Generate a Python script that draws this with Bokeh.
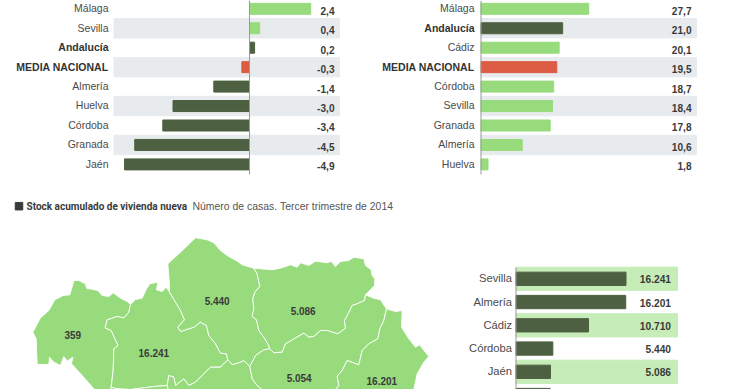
from bokeh.plotting import figure
from bokeh.models import Range1d
from bokeh.embed import file_html
from bokeh.resources import INLINE
from bokeh.core.properties import value

# ---- data ----
eu_names = ["Málaga", "Sevilla", "Andalucía", "MEDIA NACIONAL", "Almería", "Huelva", "Córdoba", "Granada", "Jaén"]
eu_values = [2.4, 0.4, 0.2, -0.3, -1.4, -3.0, -3.4, -4.5, -4.9]
pr_names = ["Málaga", "Andalucía", "Cádiz", "MEDIA NACIONAL", "Córdoba", "Sevilla", "Granada", "Almería", "Huelva"]
pr_values = [27.7, 21.0, 20.1, 19.5, 18.7, 18.4, 17.8, 10.6, 1.8]
st_names = ["Sevilla", "Almería", "Cádiz", "Córdoba", "Jaén"]
st_values = [16241, 16201, 10710, 5440, 5086]
st_cut_value = [5054]  # sixth bar: only its top edge shows in the picture

title_bold = "Stock acumulado de vivienda nueva"
title_rest = "Número de casas. Tercer trimestre de 2014"

huelva = [(37,305),(60,262),(85,240),(103,208),(128,195),(148,193),(160,150),(175,150),(195,160),(198,173),(232,180),(245,195),(265,198),(278,187),(300,203),(320,213),(330,222),(325,245),(310,262),(290,258),(260,268),(254,292),(272,300),(293,345),(280,355),(278,420),(272,470),(272,490),(235,490),(222,477),(185,435),(153,400),(157,380),(140,392),(130,378),(120,405),(100,395),(87,380),(85,402),(50,402),(47,325)]
sevilla = [(330,222),(345,207),(365,203),(378,175),(388,160),(412,155),(408,178),(425,183),(437,170),(447,185),(465,215),(480,240),(492,268),(472,290),(480,303),(520,290),(540,275),(558,285),(565,315),(585,340),(600,368),(618,370),(622,388),(600,410),(570,410),(550,430),(525,455),(505,465),(490,445),(465,465),(460,440),(445,435),(440,465),(400,468),(330,477),(290,475),(272,470),(278,420),(280,355),(293,345),(272,300),(254,292),(260,268),(290,258),(310,262),(325,245)]
cadiz = [(272,470),(290,475),(330,477),(400,468),(440,465),(448,490),(235,490),(272,490)]
malaga = [(440,465),(445,435),(460,440),(465,465),(490,445),(505,465),(525,455),(550,430),(570,410),(600,410),(622,388),(635,402),(655,397),(670,390),(688,408),(695,445),(710,465),(740,490),(448,490)]
cordoba = [(447,185),(447,165),(442,100),(480,65),(525,22),(545,25),(560,28),(580,37),(600,60),(620,75),(650,92),(665,103),(700,113),(710,130),(718,168),(703,185),(697,205),(700,235),(695,258),(708,268),(715,300),(730,320),(745,345),(748,355),(730,358),(705,375),(700,385),(688,408),(670,390),(655,397),(635,402),(622,388),(618,370),(600,368),(585,340),(565,315),(558,285),(540,275),(520,290),(480,303),(472,290),(492,268),(480,240),(465,215)]
jaen = [(700,113),(755,118),(780,113),(810,103),(830,110),(840,97),(865,105),(885,92),(920,97),(932,92),(945,108),(960,93),(985,90),(1000,80),(1030,85),(1035,105),(1052,118),(1055,135),(1063,145),(1062,165),(1035,193),(1032,210),(1010,220),(995,225),(983,250),(972,270),(975,293),(952,310),(920,300),(900,300),(880,318),(865,320),(850,308),(795,340),(785,365),(760,367),(748,355),(745,345),(730,320),(715,300),(708,268),(695,258),(700,235),(697,205),(703,185),(718,168),(710,130)]
granada = [(748,355),(760,367),(785,365),(795,340),(850,308),(865,320),(880,318),(900,300),(920,300),(952,310),(975,293),(972,270),(983,250),(995,225),(1010,220),(1032,210),(1035,193),(1060,203),(1080,208),(1098,235),(1090,270),(1078,295),(1072,325),(1045,340),(1025,360),(1015,403),(980,390),(965,420),(950,437),(955,465),(945,477),(945,490),(740,490),(710,465),(695,445),(688,408),(700,385),(705,375),(730,358)]
almeria = [(1098,235),(1125,243),(1145,240),(1143,290),(1165,325),(1185,350),(1197,343),(1225,378),(1210,395),(1190,430),(1180,477),(1175,490),(945,490),(945,477),(955,465),(950,437),(965,420),(980,390),(1015,403),(1025,360),(1045,340),(1072,325),(1078,295),(1090,270)]
provinces = [huelva, sevilla, cadiz, malaga, cordoba, jaen, granada, almeria]
map_labels = ["359", "16.241", "5.440", "5.086", "5.054", "16.201"]
map_u = [157, 400, 590, 848, 836, 1084]
map_v = [313, 366, 211, 242, 442, 451]

# ---- colours ----
DARK, GREEN, RED = "#4D6041", "#97DB7C", "#DC5C44"
BAND, LBAND, AXIS = "#E8EBEE", "#C6EDB8", "#9A9A9A"
TXT, VTXT = "#4A4A4A", "#3A3A3A"
W, H = 740, 389

p = figure(width=W, height=H, output_backend="svg", toolbar_location=None,
           x_range=Range1d(0, W), y_range=Range1d(H, 0), min_border=0,
           outline_line_color=None, margin=(0, 0, 0, 0))
p.axis.visible = False
p.grid.visible = False

def xr(zero_px, px_per_unit):
    return Range1d(-zero_px / px_per_unit, (W - zero_px) / px_per_unit)

def yr(first_px, step):
    return Range1d((H - first_px) / step, -first_px / step)

p.extra_x_ranges = {"eu": xr(249, 25.5), "pr": xr(480.5, 3.888), "st": xr(515.5, 110 / 16241),
                    "mu": Range1d(-60, 2160)}
p.extra_y_ranges = {"top": yr(8.3, 19.45), "st": yr(278.3, 23.25), "mv": Range1d(477, -690)}

def bar_colors(names, vals, dark_test):
    out = []
    for n, v in zip(names, vals):
        if n == "MEDIA NACIONAL":
            out.append(RED)
        elif dark_test(n, v):
            out.append(DARK)
        else:
            out.append(GREEN)
    return out

def panel(names, vals, xname, band_rows, band_l, band_r, label_r, value_r, colors):
    rows = list(range(len(names)))
    p.hbar(y=band_rows, left=band_l, right=band_r, height=1.0, color=BAND, y_range_name="top")
    p.hbar(y=rows, left=0, right=vals, height=11 / 19.45, color=colors,
           x_range_name=xname, y_range_name="top")
    for i, n in zip(rows, names):
        bold = n in ("Andalucía", "MEDIA NACIONAL")
        p.text(x=[label_r], y=[i - 0.03], text=[n], y_range_name="top", text_align="right", text_baseline="middle",
               text_font=value("Liberation Sans"), text_font_size="10.5px",
               text_font_style="bold" if bold else "normal", text_color="#333333" if bold else TXT)
    p.text(x=[value_r] * len(vals), y=[r + 0.1 for r in rows], text=[f"{v:.1f}".replace(".", ",") for v in vals],
           y_range_name="top", text_align="right", text_baseline="middle",
           text_font=value("Liberation Sans"), text_font_size="10.1px", text_font_style="bold", text_color=VTXT)

panel(eu_names, eu_values, "eu", [1, 3, 5, 7], 113.5, 339, 108, 334,
      bar_colors(eu_names, eu_values, lambda n, v: n == "Andalucía" or v < 0))
panel(pr_names, pr_values, "pr", [1, 3, 5, 7], 480.5, 696, 474, 691,
      bar_colors(pr_names, pr_values, lambda n, v: n == "Andalucía"))
p.segment(x0=[249, 480.5], y0=[0, 0], x1=[249, 480.5], y1=[174, 174], line_color=AXIS, line_width=1)

# heading
p.scatter(x=[18.5], y=[205.7], marker="square", size=7.5, color="#3A3A3A")
p.text(x=[26], y=[205.5], text=[title_bold], text_baseline="middle", text_font=value("Roboto"),
       text_font_size="10px", text_font_style="bold", text_color="#3A3A3A")
p.text(x=[192], y=[205.5], text=[title_rest], text_baseline="middle", text_font=value("Liberation Sans"),
       text_font_size="10.45px", text_color="#555555")

# map
for prov in provinces:
    p.patch(x=[c[0] for c in prov], y=[c[1] for c in prov], fill_color=GREEN, line_color="white",
            line_width=0.9, x_range_name="mu", y_range_name="mv")
p.text(x=map_u, y=map_v, text=map_labels, x_range_name="mu", y_range_name="mv", text_align="center",
       text_baseline="middle", text_font=value("Liberation Sans"), text_font_size="10px",
       text_font_style="bold", text_color=VTXT)

# stock bars
st_rows = list(range(len(st_names)))
p.hbar(y=[0, 2, 4], left=515.5, right=677, height=1.0, color=LBAND, y_range_name="st")
p.hbar(y=st_rows + [len(st_names)], left=0, right=st_values + st_cut_value, height=13.3 / 23.25, color=DARK,
       x_range_name="st", y_range_name="st")
p.text(x=[511.5] * 5, y=[r - 0.02 for r in st_rows], text=st_names, y_range_name="st", text_align="right",
       text_baseline="middle", text_font=value("Liberation Sans"), text_font_size="11.2px", text_color=TXT)
p.text(x=[670.5] * 5, y=[r + 0.03 for r in st_rows], text=[f"{v:,}".replace(",", ".") for v in st_values],
       y_range_name="st", text_align="right", text_baseline="middle", text_font=value("Liberation Sans"),
       text_font_size="10.2px", text_font_style="bold", text_color=VTXT)
p.segment(x0=[515.5], y0=[267], x1=[515.5], y1=[389], line_color=AXIS, line_width=1)

open("out.html", "w").write(file_html(p, INLINE))
